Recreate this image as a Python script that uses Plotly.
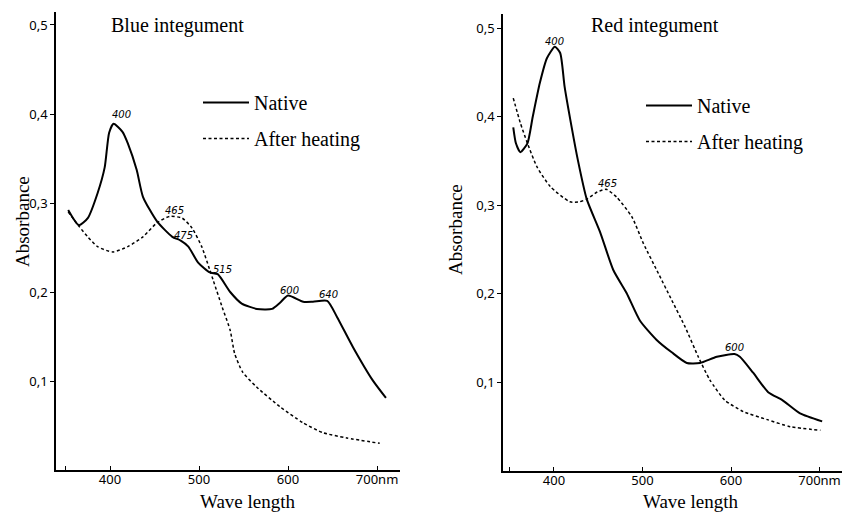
import plotly.graph_objects as go

# ---------------- data ----------------
blue_wl_native = [353, 365, 375, 386, 394, 399, 404, 414, 420, 430, 437, 453, 470, 479, 488,
                  499, 512, 521, 535, 548, 565, 582, 591, 600, 617, 628, 644, 655, 673, 695, 710]
blue_native = [0.292, 0.275, 0.283, 0.311, 0.340, 0.379, 0.389, 0.380, 0.367, 0.337, 0.307,
               0.279, 0.262, 0.258, 0.251, 0.233, 0.222, 0.220, 0.200, 0.187, 0.181, 0.181,
               0.188, 0.196, 0.189, 0.189, 0.190, 0.172, 0.138, 0.101, 0.081]

blue_wl_heat = [353, 365, 375, 386, 403, 420, 437, 453, 467, 481, 492, 503, 512, 516, 526,
                535, 540, 549, 565, 591, 617, 639, 666, 703]
blue_heat = [0.290, 0.274, 0.262, 0.251, 0.245, 0.251, 0.262, 0.278, 0.285, 0.283, 0.272,
             0.251, 0.225, 0.213, 0.183, 0.157, 0.131, 0.110, 0.093, 0.071, 0.053, 0.042,
             0.036, 0.030]

red_wl_native = [354, 357, 362, 370, 376, 384, 392, 401, 407, 412, 420, 427, 437, 452, 467,
                 482, 497, 516, 533, 550, 565, 584, 604, 610, 625, 642, 658, 678, 703]
red_native = [0.388, 0.370, 0.360, 0.370, 0.400, 0.438, 0.466, 0.479, 0.472, 0.434, 0.388,
              0.351, 0.307, 0.270, 0.227, 0.201, 0.170, 0.148, 0.134, 0.122, 0.122, 0.129,
              0.132, 0.129, 0.111, 0.089, 0.080, 0.065, 0.056]

red_wl_heat = [354, 362, 370, 381, 396, 418, 429, 437, 449, 459, 471, 488, 501, 518, 533,
               548, 563, 576, 593, 614, 641, 667, 701]
red_heat = [0.421, 0.393, 0.370, 0.343, 0.321, 0.304, 0.304, 0.307, 0.315, 0.318, 0.309,
            0.287, 0.257, 0.223, 0.193, 0.163, 0.129, 0.103, 0.080, 0.067, 0.058, 0.050,
            0.046]

# peak labels: (text, wavelength position, absorbance position)
blue_peak_text = ["400", "465", "475", "515", "600", "640"]
blue_peak_x = [413, 472, 483, 526, 602, 645]
blue_peak_y = [0.400, 0.292, 0.264, 0.225, 0.202, 0.197]

red_peak_text = ["400", "465", "600"]
red_peak_x = [401, 461, 604]
red_peak_y = [0.485, 0.325, 0.139]

x_tickvals = [350, 400, 500, 600, 700]
x_ticktext = ["", "400", "500", "600", "700nm"]
y_tickvals = [0.1, 0.2, 0.3, 0.4, 0.5]
y_ticktext = ["0,1", "0,2", "0,3", "0,4", "0,5"]

# ---------------- figure ----------------
W, H = 842, 513
SERIF = "Liberation Serif"
SANS = "Noto Sans"

fig = go.Figure()

solid = dict(color="black", width=2, shape="spline", smoothing=0.6)
dotted = dict(color="black", width=1.5, dash="3px,2.5px", shape="spline", smoothing=0.6)

fig.add_trace(go.Scatter(x=blue_wl_native, y=blue_native, mode="lines", line=solid,
                         name="Native", xaxis="x", yaxis="y", legend="legend",
                         legendgroup="a"))
fig.add_trace(go.Scatter(x=blue_wl_heat, y=blue_heat, mode="lines", line=dotted,
                         name="After heating", xaxis="x", yaxis="y", legend="legend",
                         legendgroup="b"))
fig.add_trace(go.Scatter(x=red_wl_native, y=red_native, mode="lines", line=solid,
                         name="Native", xaxis="x2", yaxis="y2", legend="legend2",
                         legendgroup="c"))
fig.add_trace(go.Scatter(x=red_wl_heat, y=red_heat, mode="lines", line=dotted,
                         name="After heating", xaxis="x2", yaxis="y2", legend="legend2",
                         legendgroup="d"))

tickfont = dict(family=SANS, size=13, color="black")

def xax(domain, rng, anchor):
    return dict(domain=domain, range=rng, anchor=anchor, showline=True, linecolor="black",
                linewidth=1.6, ticks="inside", ticklen=4, tickwidth=1.4, tickcolor="black",
                tickvals=x_tickvals, ticktext=x_ticktext, tickfont=tickfont,
                ticklabelstandoff=-3,
                showgrid=False, zeroline=False, fixedrange=True)

def yax(domain, rng, anchor):
    return dict(domain=domain, range=rng, anchor=anchor, showline=True, linecolor="black",
                linewidth=1.6, ticks="outside", ticklen=4, tickwidth=1.4, tickcolor="black",
                tickvals=y_tickvals, ticktext=y_ticktext, tickfont=tickfont,
                showgrid=False, zeroline=False, fixedrange=True)

legend_common = dict(font=dict(family=SERIF, size=20, color="black"),
                     bgcolor="rgba(0,0,0,0)", borderwidth=0, itemwidth=46,
                     traceorder="grouped", tracegroupgap=7,
                     xanchor="left", yanchor="top", itemclick=False, itemdoubleclick=False)

annotations = []
for t, x, y in zip(blue_peak_text, blue_peak_x, blue_peak_y):
    annotations.append(dict(text=t, x=x, y=y, xref="x", yref="y", showarrow=False,
                            font=dict(family="DejaVu Sans", size=10, color="black", style="italic")))
for t, x, y in zip(red_peak_text, red_peak_x, red_peak_y):
    annotations.append(dict(text=t, x=x, y=y, xref="x2", yref="y2", showarrow=False,
                            font=dict(family="DejaVu Sans", size=10, color="black", style="italic")))

def paper_text(text, px, py, size, angle=0):
    return dict(text=text, x=px / W, y=1 - py / H, xref="paper", yref="paper",
                showarrow=False, font=dict(family=SERIF, size=size, color="black"),
                textangle=angle, xanchor="center", yanchor="middle")

annotations += [
    paper_text("Blue integument", 177, 25, 20),
    paper_text("Red integument", 655, 25, 20),
    paper_text("Wave length", 248, 501, 19),
    paper_text("Wave length", 691, 501, 19),
    paper_text("Absorbance", 22, 222, 19, -90),
    paper_text("Absorbance", 455, 230, 19, -90),
]

fig.update_layout(
    width=W, height=H,
    margin=dict(l=0, r=0, t=0, b=0),
    paper_bgcolor="white", plot_bgcolor="white",
    xaxis=xax([56 / W, 400 / W], [339.3, 725.8], "y"),
    yaxis=yax([1 - 470 / H, 1 - 12 / H], [0, 0.5146], "x"),
    xaxis2=xax([503 / W, 1.0], [342.4, 725.4], "y2"),
    yaxis2=yax([1 - 471 / H, 1 - 14 / H], [0, 0.516], "x2"),
    legend=dict(legend_common, x=198 / W, y=1 - 83 / H),
    legend2=dict(legend_common, x=641 / W, y=1 - 86 / H),
    annotations=annotations,
    showlegend=True,
)

# remove the browser's default 8px page margin so the figure sits at the window origin
fig.write_html("out.html",
               config={"displayModeBar": False},
               post_script="document.body.style.margin='0';document.body.style.padding='0';")
